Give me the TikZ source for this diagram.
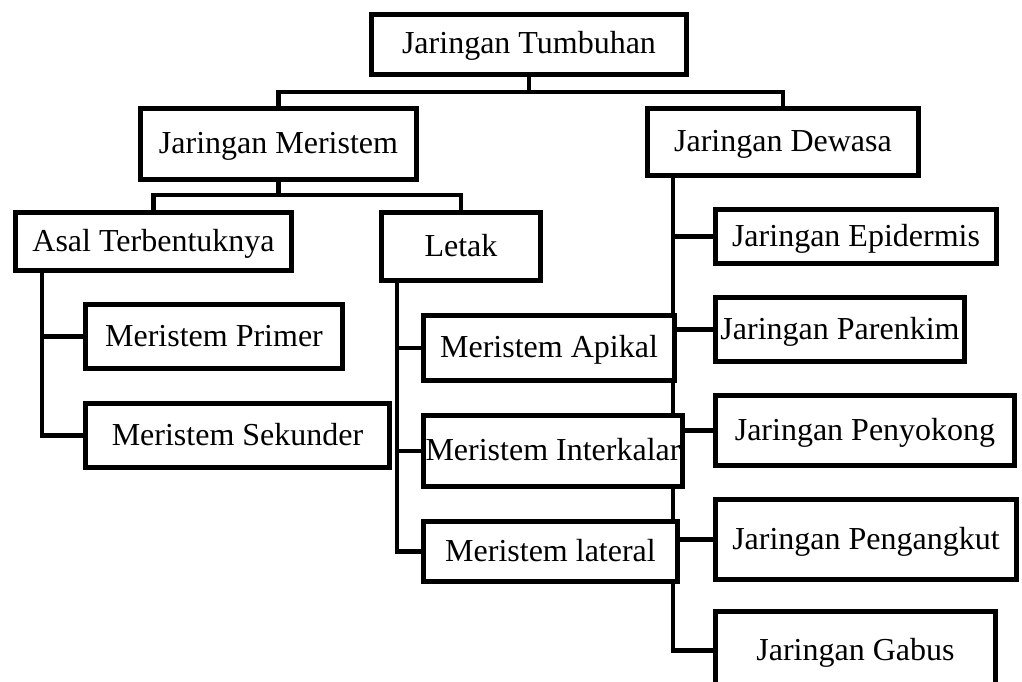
\documentclass[tikz,border=0pt]{standalone}
\usepackage{fontspec}
\setmainfont{Liberation Serif}
\usetikzlibrary{backgrounds}

\begin{document}
\begin{tikzpicture}[x=1pt,y=-1pt,
  line width=4.8pt,
  box/.style={draw=black, fill=white, rectangle, inner sep=0pt,
    font=\fontsize{32}{38}\selectfont,
    text height=24pt, text depth=5pt},
  link/.style={draw=black, line width=4.8pt}
]
\path[use as bounding box, clip] (0,0) rectangle (1022,682);

% boxes (centre, width, height)
\node[box, minimum width=315.5pt, minimum height=60.5pt] (tum) at (529,44.5) {Jaringan Tumbuhan};
\node[box, minimum width=276.5pt, minimum height=71.5pt] (mer) at (278.5,144) {Jaringan Meristem};
\node[box, minimum width=271.5pt, minimum height=67.5pt] (dew) at (783,142) {Jaringan Dewasa};

\node[box, minimum width=276.5pt, minimum height=58.5pt] (asal) at (153.5,241.5) {Asal Terbentuknya};
\node[box, minimum width=159.5pt, minimum height=68.5pt] (letak) at (461,246.5) {Letak};

\node[box, minimum width=257.5pt, minimum height=64.5pt] (prim) at (214,336.5) {Meristem Primer};
\node[box, minimum width=304.5pt, minimum height=64.5pt] (sek) at (237.5,435.5) {Meristem Sekunder};

\node[box, minimum width=251.5pt, minimum height=65.5pt] (api) at (549,348) {Meristem Apikal};
\node[box, minimum width=259.5pt, minimum height=71.5pt] (inter) at (553,451) {Meristem Interkalar};
\node[box, minimum width=254.5pt, minimum height=60.5pt] (lat) at (550.5,551.5) {Meristem lateral};

\node[box, minimum width=281.5pt, minimum height=54.5pt] (epi) at (856,236.5) {Jaringan Epidermis};
\node[box, minimum width=249.5pt, minimum height=64.5pt] (par) at (840,329.5) {Jaringan Parenkim};
\node[box, minimum width=299.5pt, minimum height=70.5pt] (pen) at (865,430.5) {Jaringan Penyokong};
\node[box, minimum width=301.5pt, minimum height=80.5pt] (ang) at (866,539.5) {Jaringan Pengangkut};
\node[box, minimum width=280.5pt, minimum height=78.5pt] (gab) at (855.5,650.5) {Jaringan Gabus};

% connectors, drawn behind the boxes
\begin{scope}[on background layer]
  % top level split
  \coordinate (b1) at (dew.north |- 0,92);
  \draw[link] (tum.south) -- (tum.south |- b1);
  \draw[link] (mer.north) |- (b1) -- (dew.north);

  % meristem split
  \coordinate (b2) at (letak.north |- 0,195);
  \draw[link] (mer.south) -- (mer.south |- b2);
  \draw[link] (asal.north) |- (b2) -- (letak.north);

  % origin branch
  \coordinate (t1) at (42,0);
  \draw[link] (asal.south -| t1) |- (sek.west);
  \draw[link] (prim.west) -- (prim.west -| t1);

  % position branch
  \coordinate (t2) at (397,0);
  \draw[link] (letak.south -| t2) |- (lat.west);
  \draw[link] (api.west) -- (api.west -| t2);
  \draw[link] (inter.west) -- (inter.west -| t2);

  % mature tissue branch
  \coordinate (t3) at (673,0);
  \draw[link] (dew.south -| t3) |- (gab.west);
  \draw[link] (epi.west) -- (epi.west -| t3);
  \draw[link] (par.west) -- (par.west -| t3);
  \draw[link] (pen.west) -- (pen.west -| t3);
  \draw[link] (ang.west) -- (ang.west -| t3);
\end{scope}
\end{tikzpicture}
\end{document}
